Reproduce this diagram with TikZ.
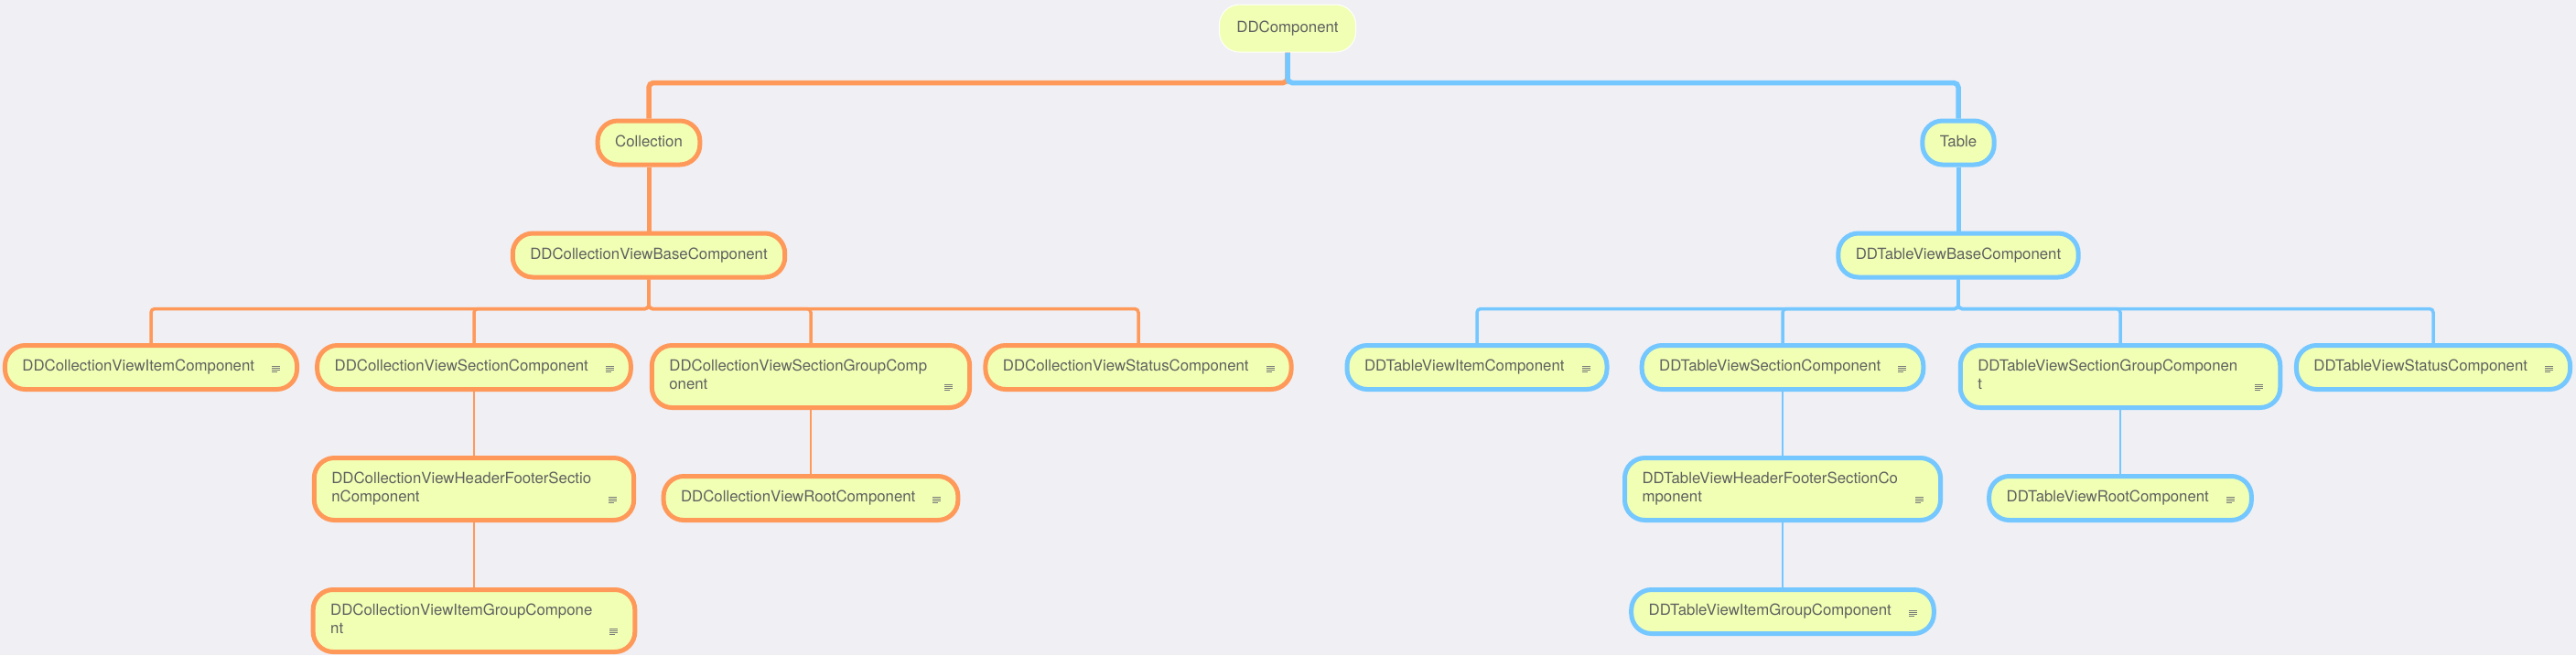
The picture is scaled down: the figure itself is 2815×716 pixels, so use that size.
\documentclass[tikz,border=0pt]{standalone}
\usepackage{fontspec}
\setmainfont{TeX Gyre Heros}
\usetikzlibrary{positioning}

\definecolor{bgcol}{HTML}{EFEFF4}
\definecolor{topicfill}{HTML}{F0FFB4}
\definecolor{collorange}{HTML}{FF995A}
\definecolor{tableblue}{HTML}{75C7FF}
\definecolor{textgray}{HTML}{606060}
\definecolor{notegray}{HTML}{7A7A7A}

\newcommand{\lbl}[1]{\raisebox{-2.5pt}{\begin{tabular}{@{}l@{}}#1\end{tabular}}}
\newcommand{\leaf}[1]{\raisebox{-2.5pt}{\begin{tabular}{@{}l@{}}#1\end{tabular}}\kern27.5pt}

\tikzset{
  topic/.style={rectangle, rounded corners=22pt, fill=topicfill, line width=5pt,
    inner xsep=19pt, inner ysep=14pt, text=textgray,
    font=\fontsize{16.8}{20}\selectfont},
  colltopic/.style={topic, draw=collorange},
  tabletopic/.style={topic, draw=tableblue},
  collline/.style={draw=collorange, rounded corners=5pt},
  tableline/.style={draw=tableblue, rounded corners=5pt},
  noteline/.style={draw=notegray, line width=1pt}
}

\begin{document}
\begin{tikzpicture}[x=1pt,y=-1pt]
  \useasboundingbox[fill=bgcol] (0,0) rectangle (2815,716); %Canvas

  %Root and main branches
  \node[topic, draw=white, line width=1pt, inner ysep=16pt] (root) at (1407,31) {\lbl{DDComponent}};
  \node[colltopic] (coll) at (709,156) {\lbl{Collection}};
  \node[tabletopic] (tab) at (2140,156) {\lbl{Table}};
  \node[colltopic] (cbase) at (709,279) {\lbl{DDCollectionViewBaseComponent}};
  \node[tabletopic] (tbase) at (2140,279) {\lbl{DDTableViewBaseComponent}};

  %Collection leaves
  \node[colltopic, anchor=north] (cit) at (165,375) {\leaf{DDCollectionViewItemComponent}};
  \node[colltopic, anchor=north] (csec) at (518,375) {\leaf{DDCollectionViewSectionComponent}};
  \node[colltopic, anchor=north] (csg) at (886,375) {\leaf{DDCollectionViewSectionGroupComp\\onent}};
  \node[colltopic, anchor=north] (cst) at (1244,375) {\leaf{DDCollectionViewStatusComponent}};
  \node[colltopic, anchor=north] (chf) at (518,498) {\leaf{DDCollectionViewHeaderFooterSectio\\nComponent}};
  \node[colltopic, anchor=north] (croot) at (886,518) {\leaf{DDCollectionViewRootComponent}};
  \node[colltopic, anchor=north] (cig) at (518,642) {\leaf{DDCollectionViewItemGroupCompone\\nt}};

  %Table leaves
  \node[tabletopic, anchor=north] (tit) at (1614,375) {\leaf{DDTableViewItemComponent}};
  \node[tabletopic, anchor=north] (tsec) at (1948,375) {\leaf{DDTableViewSectionComponent}};
  \node[tabletopic, anchor=north] (tsg) at (2317,375) {\leaf{DDTableViewSectionGroupComponen\\t}};
  \node[tabletopic, anchor=north] (tst) at (2659,375) {\leaf{DDTableViewStatusComponent}};
  \node[tabletopic, anchor=north] (thf) at (1948,498) {\leaf{DDTableViewHeaderFooterSectionCo\\mponent}};
  \node[tabletopic, anchor=north] (troot) at (2317,518) {\leaf{DDTableViewRootComponent}};
  \node[tabletopic, anchor=north] (tig) at (1948,642) {\leaf{DDTableViewItemGroupComponent}};

  %Note icons
  \foreach \n in {cit,csec,csg,cst,chf,croot,cig,tit,tsec,tsg,tst,thf,troot,tig}{
    \draw[noteline, shift={(\n.south east)}] (-30,-28) -- ++(9,0) (-30,-26) -- ++(9,0)
      (-30,-24) -- ++(9,0) (-30,-22) -- ++(6,0);
  }

  %Connectors
  \draw[collline, line width=5.5pt] (root.south) -- ++(0,33) -| (coll.north);
  \draw[tableline, line width=5.5pt] (root.south) -- ++(0,33) -| (tab.north);
  \draw[collline, line width=5pt] (coll.south) -- (cbase.north);
  \draw[tableline, line width=5pt] (tab.south) -- (tbase.north);
  \foreach \c in {cit,csec,csg,cst}
    \draw[collline, line width=3.5pt, rounded corners=4pt] (cbase.south) -- ++(0,32) -| (\c.north);
  \foreach \c in {tit,tsec,tsg,tst}
    \draw[tableline, line width=3.5pt, rounded corners=4pt] (tbase.south) -- ++(0,32) -| (\c.north);
  \draw[collline, line width=2.5pt] (csec.south) -- (chf.north);
  \draw[collline, line width=2.5pt] (csg.south) -- (croot.north);
  \draw[collline, line width=2pt] (chf.south) -- (cig.north);
  \draw[tableline, line width=2.5pt] (tsec.south) -- (thf.north);
  \draw[tableline, line width=2.5pt] (tsg.south) -- (troot.north);
  \draw[tableline, line width=2pt] (thf.south) -- (tig.north);
\end{tikzpicture}
\end{document}
